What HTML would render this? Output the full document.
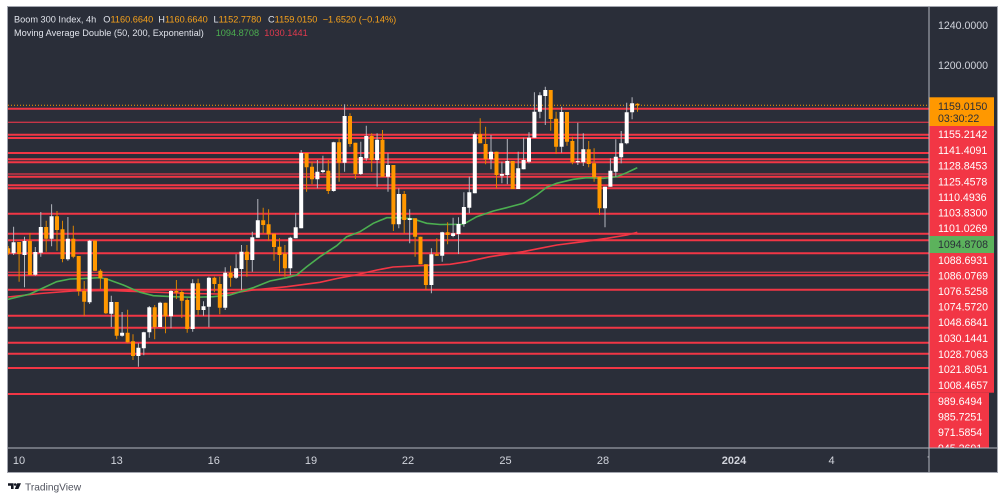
<!DOCTYPE html>
<html><head><meta charset="utf-8"><style>html,body{margin:0;padding:0;background:#fff;width:1005px;height:501px;overflow:hidden}svg{display:block}</style></head>
<body>
<svg width="1005" height="501" viewBox="0 0 1005 501" xmlns="http://www.w3.org/2000/svg" font-family="'Liberation Sans', sans-serif">
<defs>
<clipPath id="c"><rect x="8" y="7" width="921" height="441"/></clipPath>
<clipPath id="t"><rect x="8" y="448" width="921" height="24"/></clipPath>
</defs>
<rect x="8" y="7" width="989" height="465" fill="#2a2e39"/>
<g clip-path="url(#c)">
<path d="M8,108.7H929M8,134.7H929M8,138H929M8,153H929M8,159.3H929M8,162.3H929M8,176.7H929M8,185.3H929M8,188.3H929M8,213.7H929M8,233.7H929M8,240.3H929M8,253.3H929M8,275.3H929M8,289.7H929M8,315.7H929M8,327.7H929M8,342.7H929M8,353.7H929M8,368H929M8,394H929" stroke="#f23645" stroke-width="2" fill="none"/>
<path d="M8,122.3H929M8,174H929M8,272.3H929" stroke="#e0364a" stroke-width="1.4" fill="none" opacity="0.85"/>
<path d="M8,105.3H929" stroke="#ff9800" stroke-width="1" stroke-dasharray="1,2" fill="none"/>
<polyline fill="none" stroke="#f23645" stroke-width="1.6" points="8,297 40,293.5 73,291 110,290.5 150,292 190,293.5 220,294 240,292 253,290 287,286.7 320,282.3 337,278.5 353,275.5 377,270 393,267 420,265.7 450,264.3 467,261.7 490,256.7 523,251.7 540,248.3 557,245 583,241.7 607,238.3 627,235 637.3,232.3"/>
<polyline fill="none" stroke="#4caf50" stroke-width="1.6" points="8,299.3 30,294 56.7,281.7 70,279 80,278.7 100,277.7 106.7,279 123.3,285 140,292.3 153.3,295.7 173.3,296.7 193.3,297.3 213.3,296.7 230,295 253.3,287.7 270,281 286.7,277.7 296.7,275 306.7,266.7 320,256.7 336.7,245.7 346.7,236.7 360,231.7 373.3,223.3 386.7,217.7 400,217.7 413.3,219 426.7,223.3 440,224.5 463.3,224.3 476.7,216.7 493.3,211 506.7,207.7 523.3,203.3 536.7,195 546.7,187.3 556.7,183.3 573.3,179.3 586.7,177.7 603.3,178.3 616.7,176.7 626.7,172.7 637.3,167.7"/>
<path stroke="#b2b5be" stroke-width="1" fill="none" d="M13.6,226.7V255M24.5,236.7V287.3M35.3,247V275.7M40.8,212V256.7M51.6,204.3V246.3M67.9,217V260.7M89.6,240V304M111.3,295.7V327M122.1,312V336.7M138.4,343.3V366.7M143.8,331.7V355.3M149.3,306V337.7M160.1,301.7V327M171,290V328.3M192.7,279.3V331.7M203.5,301.3V315.7M208.9,276.7V327.3M225.2,267.3V310M236.1,254.3V279M241.5,245V290M252.3,231.7V271.7M257.8,199V237.7M290.3,236.7V275M295.7,213.3V238.3M301.2,150V228.3M317.4,160V188.3M322.9,155.7V173.3M333.7,141.7V191.7M344.6,104.3V171.7M360.8,141.7V175M366.3,125.7V160.7M377.1,133.3V186.7M388,153.3V191.7M398.8,188.3V228.3M409.7,209.3V243.3M431.4,248.3V293.3M442.2,231.7V261.7M453.1,217.7V237.3M458.5,217.3V254M463.9,192.3V226.7M469.3,176.7V213.3M474.8,132.3V193.3M491,135V169.3M501.9,161.7V183.3M507.3,139V184.3M518.2,151.7V189M523.6,137.7V169.3M529,132.3V163.3M534.4,92.3V137.7M539.9,92.3V118.3M545.3,86.7V125M561.6,106.7V152.7M577.8,122.7V165M583.3,133.3V166M605,186.7V227.3M610.4,158.3V186.7M615.8,139.3V176.7M621.2,131V163.3M626.7,102.7V144.3M632.1,97.3V119.3"/>
<path stroke="#d98200" stroke-width="1" fill="none" d="M8.2,246V255M19.1,242V281.7M29.9,233V275M46.2,220.7V251.7M57,211V250.7M62.5,220.7V262.3M73.3,225.7V258.3M78.7,256V295.7M84.2,281V316M95,240V271M100.4,269.3V289M105.9,277.7V314M116.7,302V339.3M127.6,309.7V343.3M133,334.3V360M154.7,305V339.3M165.5,302.7V333.3M176.4,280V299M181.8,290V318M187.2,298.3V332.7M198.1,278.7V315M214.4,276.7V292.3M219.8,276.7V314.3M230.6,265.7V286.7M246.9,245V276.7M263.2,207.7V233.3M268.6,209.3V240.7M274,233.7V260.7M279.5,238.3V273.3M284.9,245V276.7M306.6,153V191.7M312,161.7V184.3M328.3,160V194M339.1,138.3V181.7M350,113.3V146.7M355.4,142.7V179M371.7,133.3V171.7M382.5,130V176.7M393.4,165V231M404.2,191V233.3M415.1,218.3V256.7M420.5,236.7V264.3M425.9,264.3V290M436.8,238.3V255.7M447.6,222.3V244.3M480.2,118.3V143.3M485.6,126.7V164.3M496.5,151.7V188.3M512.7,161V189M550.7,90V130.7M556.1,111.7V154M567,112V145.7M572.4,136.7V164.3M588.7,141V167.3M594.1,148.3V181.7M599.5,176.7V215M637.5,103.3V111.7"/>
<path fill="#ffffff" d="M11.6,242.3h4V253.3h-4zM22.5,241h4V255h-4zM33.3,252h4V274.7h-4zM38.8,227h4V252.7h-4zM49.6,216.3h4V238.7h-4zM65.9,238.7h4V259.3h-4zM87.6,240.7h4V302.3h-4zM109.3,302h4V313.7h-4zM120.1,332.7h4V335.7h-4zM136.4,347.7h4V356h-4zM141.8,332.3h4V348.3h-4zM147.3,307.3h4V332.3h-4zM158.1,302.7h4V327h-4zM169,291h4V316.3h-4zM190.7,283.3h4V329h-4zM201.5,306.3h4V310h-4zM206.9,277.7h4V306.7h-4zM223.2,272.7h4V307.7h-4zM234.1,268.3h4V277.7h-4zM239.5,251.7h4V269h-4zM250.3,237.3h4V260h-4zM255.8,220.3h4V237.7h-4zM288.3,237.7h4V268.3h-4zM293.7,227.3h4V238.3h-4zM299.2,153h4V228.3h-4zM315.4,171.7h4V179.3h-4zM320.9,170.3h4V172h-4zM331.7,142.3h4V191h-4zM342.6,116h4V162.7h-4zM358.8,157h4V174h-4zM364.3,136h4V158.3h-4zM375.1,139.7h4V160h-4zM386,165h4V176.7h-4zM396.8,194h4V224.3h-4zM407.7,218.3h4V220h-4zM429.4,254.3h4V285h-4zM440.2,232.3h4V255.7h-4zM451.1,233.3h4V236h-4zM456.5,224h4V234h-4zM461.9,207h4V224h-4zM467.3,192.3h4V207.7h-4zM472.8,134.3h4V193.3h-4zM489,151.7h4V159.3h-4zM499.9,174h4V175.7h-4zM505.3,161h4V175h-4zM516.2,168.3h4V189h-4zM521.6,160h4V169.3h-4zM527,137.7h4V161.7h-4zM532.4,111.7h4V137.7h-4zM537.9,95.3h4V111.7h-4zM543.3,90h4V96h-4zM559.6,112h4V146.7h-4zM575.8,161h4V162.3h-4zM581.3,149.3h4V162.3h-4zM603,186.7h4V208.3h-4zM608.4,170.7h4V186.7h-4zM613.8,156.7h4V171.7h-4zM619.2,143.3h4V157.3h-4zM624.7,112.3h4V143.3h-4zM630.1,103.3h4V112.3h-4z"/>
<path fill="#ff9800" d="M6.2,248.3h4V253.3h-4zM17.1,242h4V254h-4zM27.9,241h4V275h-4zM44.2,227h4V238.7h-4zM55,216.3h4V230h-4zM60.5,229.3h4V259h-4zM71.3,238.7h4V256.7h-4zM76.7,256h4V291h-4zM82.2,291h4V301.7h-4zM93,240.7h4V270.7h-4zM98.4,270.7h4V278.3h-4zM103.9,278.3h4V313.3h-4zM114.7,302h4V335.7h-4zM125.6,332.7h4V342.3h-4zM131,341.3h4V356h-4zM152.7,307.3h4V327h-4zM163.5,302.7h4V316.3h-4zM174.4,291h4V292.5h-4zM179.8,292h4V300.7h-4zM185.2,300h4V329h-4zM196.1,283.3h4V310h-4zM212.4,277.7h4V284h-4zM217.8,284h4V307.7h-4zM228.6,272.7h4V277.7h-4zM244.9,251.7h4V260h-4zM261.2,220.3h4V225h-4zM266.6,224.3h4V234.3h-4zM272,233.7h4V247h-4zM277.5,246.7h4V255h-4zM282.9,253.7h4V268.3h-4zM304.6,153h4V167.3h-4zM310,166.7h4V179.3h-4zM326.3,170.7h4V191h-4zM337.1,142.3h4V162.7h-4zM348,116h4V144h-4zM353.4,142.7h4V174h-4zM369.7,136h4V160h-4zM380.5,139.7h4V176.7h-4zM391.4,165h4V224.3h-4zM402.2,194h4V220h-4zM413.1,218.3h4V236.7h-4zM418.5,236.7h4V264.3h-4zM423.9,264.3h4V285h-4zM434.8,254.3h4V255.7h-4zM445.6,232.3h4V235h-4zM478.2,134.3h4V143.3h-4zM483.6,144h4V159.3h-4zM494.5,151.7h4V175h-4zM510.7,161h4V189h-4zM548.7,90h4V119h-4zM554.1,118.7h4V146.7h-4zM565,112h4V141.7h-4zM570.4,141h4V162.3h-4zM586.7,149.3h4V164h-4zM592.1,163.3h4V177.3h-4zM597.5,176.7h4V208.3h-4zM635.5,103.7h4V105.3h-4z"/>
</g>
<!-- price axis boxes -->
<rect x="929" y="97.3" width="65" height="28.7" fill="#ff9800"/>
<rect x="929" y="126" width="65" height="110" fill="#f23645"/>
<rect x="929" y="236" width="65" height="17" fill="#5cb25c"/>
<rect x="929" y="253" width="65" height="139.7" fill="#f23645"/>
<rect x="929" y="392.7" width="60" height="55.3" fill="#f23645"/>
<g font-size="10.6" fill="#d1d4dc">
<text x="938" y="28.8">1240.0000</text>
<text x="938" y="68.8">1200.0000</text>
</g>
<g font-size="10.6" fill="#2a2e39">
<text x="938" y="109.8">1159.0150</text>
<text x="938" y="122.1">03:30:22</text>
<text x="938" y="248">1094.8708</text>
</g>
<g font-size="10.6" fill="#ffffff">
<text x="938" y="138.1">1155.2142</text>
<text x="938" y="153.8">1141.4091</text>
<text x="938" y="169.5">1128.8453</text>
<text x="938" y="185.3">1125.4578</text>
<text x="938" y="201.2">1110.4936</text>
<text x="938" y="216.3">1103.8300</text>
<text x="938" y="232">1101.0269</text>
<text x="938" y="263.8">1088.6931</text>
<text x="938" y="279.5">1086.0769</text>
<text x="938" y="295.1">1076.5258</text>
<text x="938" y="310.6">1074.5720</text>
<text x="938" y="326.2">1048.6841</text>
<text x="938" y="342.1">1030.1441</text>
<text x="938" y="357.8">1028.7063</text>
<text x="938" y="373.2">1021.8051</text>
<text x="938" y="389.1">1008.4657</text>
<text x="938" y="404.8">989.6494</text>
<text x="938" y="420.5">985.7251</text>
<text x="938" y="436.1">971.5854</text>
<text x="938" y="451.8" clip-path="url(#ax)">945.2601</text>
</g>
<defs><clipPath id="ax"><rect x="929" y="7" width="68" height="441"/></clipPath></defs>
<!-- bottom axis bg cover for clipped label -->
<rect x="929" y="448" width="68" height="24" fill="#2a2e39"/>
<!-- time axis -->
<g font-size="11" fill="#d1d4dc" text-anchor="middle" clip-path="url(#t)">
<text x="19" y="464">10</text>
<text x="116.7" y="464">13</text>
<text x="213.8" y="464">16</text>
<text x="311" y="464">19</text>
<text x="408" y="464">22</text>
<text x="505.5" y="464">25</text>
<text x="603" y="464">28</text>
<text x="734" y="464" font-weight="bold">2024</text>
<text x="831.5" y="464">4</text>
<text x="930" y="464">7</text>
</g>
<!-- separators and border -->
<path d="M929,7V472M8,448H997" stroke="#b2b5be" stroke-width="1" fill="none"/>
<rect x="7.5" y="6.5" width="990" height="466" fill="none" stroke="#a3a6af" stroke-width="1"/>
<!-- header -->
<text y="22.5" font-size="9.2" fill="#e0e3eb"><tspan x="14">Boom 300 Index, 4h</tspan><tspan x="103.3">O</tspan><tspan fill="#f7a21b">1160.6640</tspan><tspan x="158.3">H</tspan><tspan fill="#f7a21b">1160.6640</tspan><tspan x="213.5">L</tspan><tspan fill="#f7a21b">1152.7780</tspan><tspan x="268">C</tspan><tspan fill="#f7a21b">1159.0150</tspan><tspan x="322.7" fill="#f7a21b">−1.6520 (−0.14%)</tspan></text>
<text y="36" font-size="9.2" fill="#e0e3eb"><tspan x="14">Moving Average Double (50, 200, Exponential)</tspan><tspan x="215.7" fill="#4caf50">1094.8708</tspan><tspan x="264.3" fill="#e03a4e">1030.1441</tspan></text>
<!-- logo -->
<path d="M8,483.2h5.6v5.8h-2.6v-3.3h-3z" fill="#131722"/>
<circle cx="15.2" cy="484.5" r="1.3" fill="#131722"/>
<path d="M17.2,483.2h3.8l-2.6,5.8h-3.6z" fill="#131722"/>
<text x="25" y="490.3" font-size="10.2" fill="#50535e">TradingView</text>
</svg>
</body></html>
